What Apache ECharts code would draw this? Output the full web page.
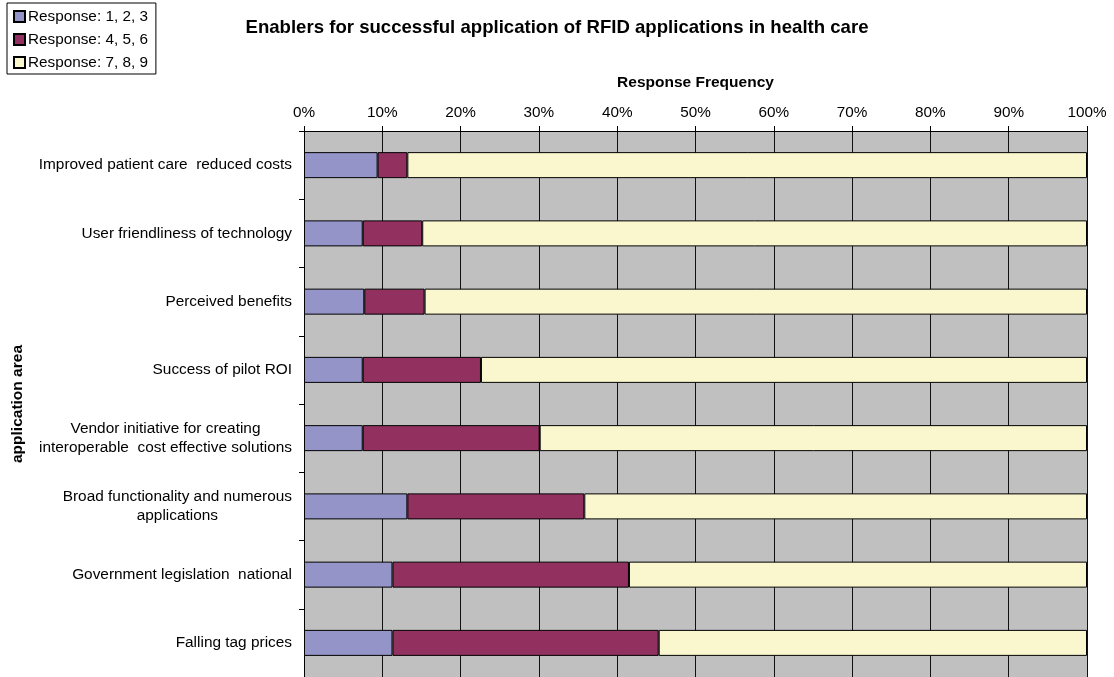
<!DOCTYPE html>
<html>
<head>
<meta charset="utf-8">
<script src="https://cdn.jsdelivr.net/npm/echarts@6/dist/echarts.min.js"></script>
<style>html,body{margin:0;padding:0;background:#fff}#c{width:1114px;height:677px}</style>
</head>
<body>
<div id="c"></div>
<script>
var categories = [
  'Improved patient care  reduced costs',
  'User friendliness of technology',
  'Perceived benefits',
  'Success of pilot ROI',
  'Vendor initiative for creating\ninteroperable  cost effective solutions',
  'Broad functionality and numerous\napplications',
  'Government legislation  national',
  'Falling tag prices'
];
var resp123 = [9.4, 7.5, 7.7, 7.5, 7.5, 13.2, 11.3, 11.3];
var resp456 = [3.8, 7.6, 7.7, 15.1, 22.6, 22.6, 30.2, 34.0];
var resp789 = [86.8, 84.9, 84.6, 77.4, 69.9, 64.2, 58.5, 54.7];
var seriesNames = ['Response: 1, 2, 3', 'Response: 4, 5, 6', 'Response: 7, 8, 9'];
var colors = ['#9494C8', '#923160', '#FAF7CF'];

var font = 'Arial, "Liberation Sans", sans-serif';
var chart = echarts.init(document.getElementById('c'), null, {renderer: 'canvas'});

function mk(name, data, color) {
  return {
    name: name, type: 'bar', stack: 'total', data: data, barWidth: 26,
    itemStyle: {color: color, borderColor: '#000', borderWidth: 1},
    emphasis: {disabled: true}
  };
}

chart.setOption({
  animation: false,
  color: colors,
  textStyle: {fontFamily: font},
  title: {
    text: 'Enablers for successful application of RFID applications in health care',
    left: 'center', top: 13,
    textStyle: {fontFamily: font, fontSize: 18.6, fontWeight: 'bold', color: '#000'}
  },
  legend: {
    orient: 'vertical', left: 7, top: 3,
    borderColor: '#000', borderWidth: 1, padding: [6, 8, 4, 6],
    itemWidth: 11, itemHeight: 11, itemGap: 8,
    icon: 'rect',
    textStyle: {fontFamily: font, fontSize: 15.3, color: '#000', padding: [0, 0, 0, -2]},
    data: seriesNames
  },
  grid: {left: 304, right: 27, top: 131, bottom: 0, show: true, backgroundColor: '#C0C0C0', borderWidth: 0, containLabel: false},
  xAxis: {
    type: 'value', position: 'top', min: 0, max: 100, interval: 10,
    name: 'Response Frequency', nameLocation: 'middle', nameGap: 40,
    nameTextStyle: {fontFamily: font, fontSize: 15.5, fontWeight: 'bold', color: '#000'},
    axisLine: {show: true, lineStyle: {color: '#000', width: 1}},
    axisTick: {show: true, length: 5, lineStyle: {color: '#000'}},
    axisLabel: {formatter: '{value}%', fontFamily: font, fontSize: 15.3, color: '#000', margin: 11},
    splitLine: {show: true, lineStyle: {color: '#111', width: 1}}
  },
  yAxis: {
    type: 'category', inverse: true, data: categories,
    name: 'application area', nameLocation: 'middle', nameGap: 278,
    nameTextStyle: {fontFamily: font, fontSize: 15.5, fontWeight: 'bold', color: '#000'},
    axisLine: {show: true, lineStyle: {color: '#000', width: 1}},
    axisTick: {show: true, length: 5, lineStyle: {color: '#000'}},
    axisLabel: {
      fontFamily: font, fontSize: 15.4, color: '#000', margin: 12, lineHeight: 19,
      formatter: function (v) { return v.split('\n').map(function (s) { return '{c|' + s + '}'; }).join('\n'); },
      rich: {c: {align: 'center', fontFamily: font, fontSize: 15.4, color: '#000', lineHeight: 19}}
    },
    splitLine: {show: false}
  },
  series: [
    mk(seriesNames[0], resp123, colors[0]),
    mk(seriesNames[1], resp456, colors[1]),
    mk(seriesNames[2], resp789, colors[2])
  ]
});
</script>
</body>
</html>
